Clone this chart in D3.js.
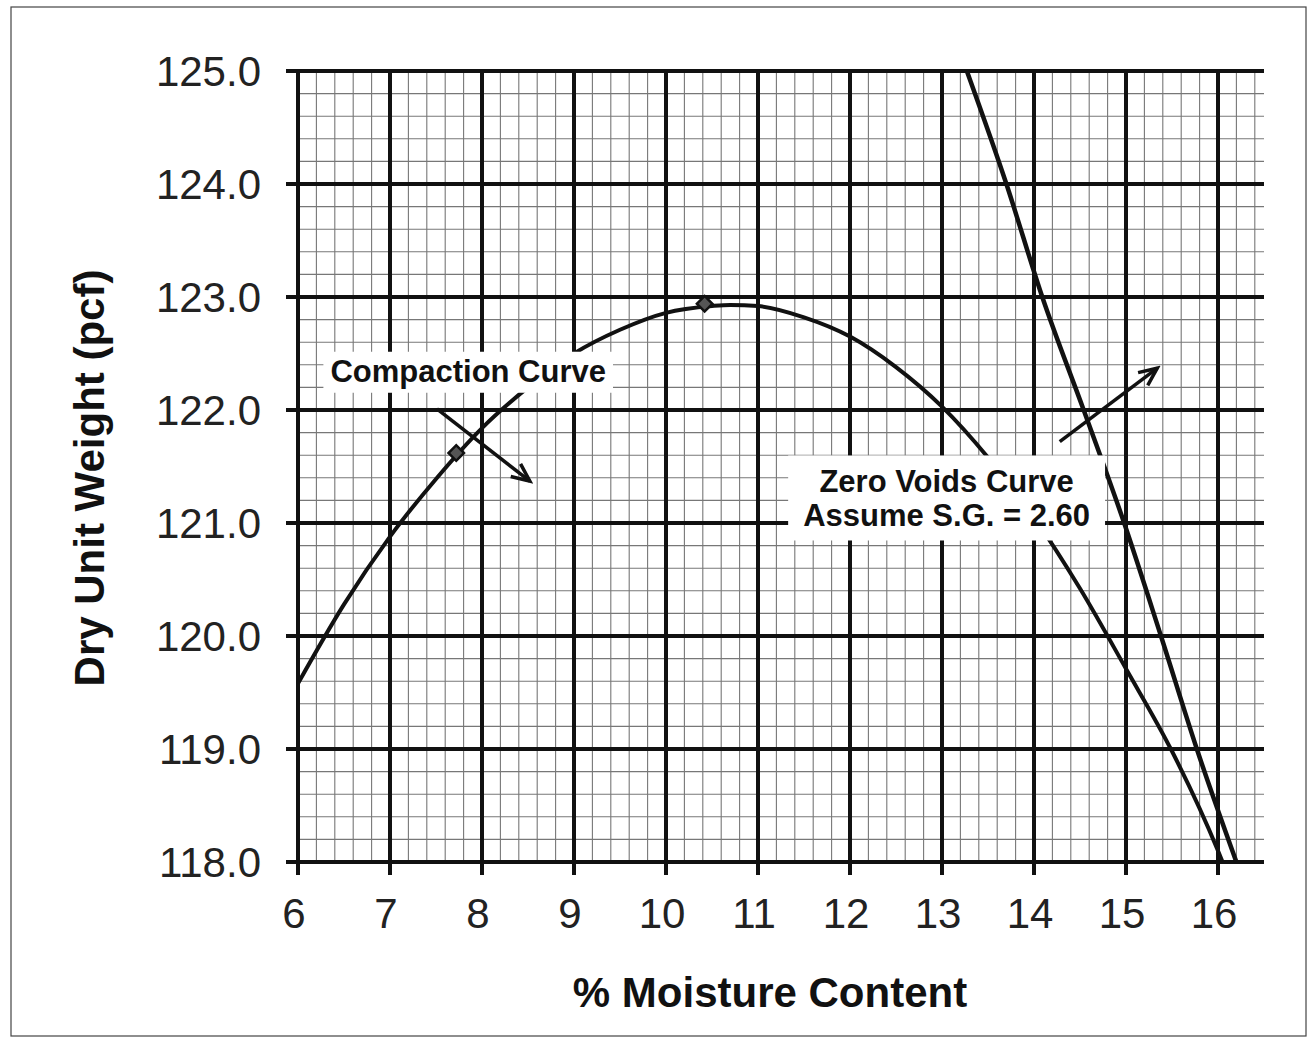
<!DOCTYPE html>
<html>
<head>
<meta charset="utf-8">
<script src="https://cdn.jsdelivr.net/npm/d3@7"></script>
<style>
  body { margin: 0; background: #fff; }
  svg { display: block; font-family: "Liberation Sans", Arial, sans-serif; }
</style>
</head>
<body>
<svg id="chart" width="1309" height="1040"></svg>
<script>
// compaction curve
let moisture = [6, 6.5, 7, 7.5, 8, 8.5, 9, 9.5, 10, 10.5, 10.7, 11, 11.5, 12, 12.5, 13, 13.5, 14, 14.5, 15, 15.5, 16, 16.05]
let dryWeight = [119.58, 120.28, 120.88, 121.39, 121.84, 122.2, 122.5, 122.71, 122.86, 122.92, 122.93, 122.92, 122.82, 122.65, 122.38, 122.03, 121.58, 121.05, 120.42, 119.71, 118.98, 118.1, 118.0]

// measured points on the compaction curve
let pointMoisture = [7.72, 10.42]
let pointWeight = [121.62, 122.94]

// zero voids curve
let zvMoisture = [13.27, 13.7, 14.09, 14.54, 14.98, 15.38, 15.77, 16.2]
let zvWeight = [125, 124, 123, 122, 121, 120, 119, 118]

let xTicks = [6, 7, 8, 9, 10, 11, 12, 13, 14, 15, 16]
let yTicks = [118, 119, 120, 121, 122, 123, 124, 125]

// arrows: [x1, y1, x2, y2] in data units
let arrows = [
    [7.51, 122.01, 8.52, 121.37],
    [14.28, 121.72, 15.34, 122.37]
]

let labelLines = [['Compaction Curve'], ['Zero Voids Curve', 'Assume S.G. = 2.60']]
let labelX = [7.85, 13.05]
let labelY = [122.25, 121.27]

let svg = d3.select('#chart')

let plotLeft = 298, plotTop = 71, plotRight = 1264, plotBottom = 862

let x = d3.scaleLinear().domain([6, 16.5]).range([plotLeft, plotRight])
let y = d3.scaleLinear().domain([118, 125]).range([plotBottom, plotTop])

// outer frame
svg.append('rect')
   .attr('x', 11).attr('y', 7)
   .attr('width', 1295).attr('height', 1029)
   .attr('fill', 'none')
   .attr('stroke', '#444')
   .attr('stroke-width', 1.2)

// minor grid
let minorX = d3.range(6, 16.5, 0.2).filter(v => Math.abs(v - Math.round(v)) > 0.01)
let minorY = d3.range(118, 125, 0.2).filter(v => Math.abs(v - Math.round(v)) > 0.01)

svg.append('g').selectAll('line')
   .data(minorX)
   .enter()
   .append('line')
   .attr('x1', d => x(d)).attr('x2', d => x(d))
   .attr('y1', plotTop).attr('y2', plotBottom)
   .attr('stroke', '#777')
   .attr('stroke-width', 1.1)

svg.append('g').selectAll('line')
   .data(minorY)
   .enter()
   .append('line')
   .attr('x1', plotLeft).attr('x2', plotRight)
   .attr('y1', d => y(d)).attr('y2', d => y(d))
   .attr('stroke', '#777')
   .attr('stroke-width', 1.1)

// major grid + ticks
svg.append('g').selectAll('line')
   .data(xTicks)
   .enter()
   .append('line')
   .attr('x1', d => x(d)).attr('x2', d => x(d))
   .attr('y1', plotTop).attr('y2', plotBottom + 13)
   .attr('stroke', '#111')
   .attr('stroke-width', 4)

svg.append('g').selectAll('line')
   .data(yTicks)
   .enter()
   .append('line')
   .attr('x1', plotLeft - 12).attr('x2', plotRight)
   .attr('y1', d => y(d)).attr('y2', d => y(d))
   .attr('stroke', '#111')
   .attr('stroke-width', 4)

// tick labels
svg.append('g').selectAll('text')
   .data(xTicks)
   .enter()
   .append('text')
   .attr('x', d => x(d) - 4)
   .attr('y', 928)
   .attr('text-anchor', 'middle')
   .attr('font-size', 42)
   .attr('fill', '#222')
   .text(d => d)

svg.append('g').selectAll('text')
   .data(yTicks)
   .enter()
   .append('text')
   .attr('x', 261)
   .attr('y', d => y(d) + 15)
   .attr('text-anchor', 'end')
   .attr('font-size', 42)
   .attr('fill', '#222')
   .text(d => d.toFixed(1))

// axis titles
svg.append('text')
   .attr('x', 770).attr('y', 1007)
   .attr('text-anchor', 'middle')
   .attr('font-size', 42)
   .attr('font-weight', 'bold')
   .attr('fill', '#111')
   .text('% Moisture Content')

svg.append('text')
   .attr('transform', 'translate(104, 478) rotate(-90)')
   .attr('text-anchor', 'middle')
   .attr('font-size', 42)
   .attr('font-weight', 'bold')
   .attr('fill', '#111')
   .text('Dry Unit Weight (pcf)')

// curves
let line = d3.line()
             .x(d => x(d[0]))
             .y(d => y(d[1]))
             .curve(d3.curveMonotoneX)

svg.append('path')
   .datum(moisture.map((m, i) => [m, dryWeight[i]]))
   .attr('d', line)
   .attr('fill', 'none')
   .attr('stroke', '#111')
   .attr('stroke-width', 4)

svg.append('path')
   .datum(zvMoisture.map((m, i) => [m, zvWeight[i]]))
   .attr('d', line)
   .attr('fill', 'none')
   .attr('stroke', '#111')
   .attr('stroke-width', 4.5)

// points - diamonds
svg.append('g').selectAll('path')
   .data(pointMoisture)
   .enter()
   .append('path')
   .attr('d', d3.symbol().type(d3.symbolSquare).size(120))
   .attr('transform', (d, i) => 'translate(' + x(d) + ',' + y(pointWeight[i]) + ') rotate(45)')
   .attr('fill', '#555')
   .attr('stroke', '#111')
   .attr('stroke-width', 2.5)

// arrows
svg.append('defs')
   .append('marker')
   .attr('id', 'head')
   .attr('markerUnits', 'userSpaceOnUse')
   .attr('markerWidth', 24).attr('markerHeight', 24)
   .attr('refX', 20).attr('refY', 10)
   .attr('orient', 'auto')
   .append('path')
   .attr('d', 'M2,2 L20,10 L2,18')
   .attr('fill', 'none')
   .attr('stroke', '#111')
   .attr('stroke-width', 3.5)

svg.append('g').selectAll('line')
   .data(arrows)
   .enter()
   .append('line')
   .attr('x1', d => x(d[0])).attr('y1', d => y(d[1]))
   .attr('x2', d => x(d[2])).attr('y2', d => y(d[3]))
   .attr('stroke', '#111')
   .attr('stroke-width', 3.5)
   .attr('marker-end', 'url(#head)')

// labels with white boxes
let pads = [[7, 8, 10], [15, 15, 13]]
labelLines.forEach((lines, i) => {
    let g = svg.append('g')
    let box = g.append('rect').attr('fill', '#fff')
    let t = g.append('text')
             .attr('text-anchor', 'middle')
             .attr('font-size', 31)
             .attr('font-weight', 'bold')
             .attr('fill', '#111')
    lines.forEach((s, j) => {
        t.append('tspan')
         .attr('x', x(labelX[i]))
         .attr('y', y(labelY[i]) + j * 34)
         .text(s)
    })
    let bb = t.node().getBBox()
    let p = pads[i]
    box.attr('x', bb.x - p[0])
       .attr('y', bb.y + 6 - p[1])
       .attr('width', bb.width + 2 * p[0])
       .attr('height', bb.height - 6 + p[1] + p[2] - 6)
})
</script>
</body>
</html>
